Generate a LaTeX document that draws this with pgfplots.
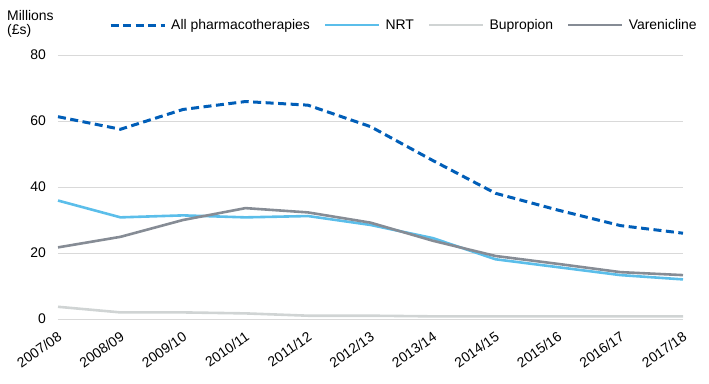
\documentclass[border=0pt]{standalone}
\usepackage{fontspec}
\setmainfont{Liberation Sans}
\usepackage{pgfplots}
\pgfplotsset{compat=1.18}
\definecolor{allc}{RGB}{0,94,184}
\definecolor{nrtc}{RGB}{91,190,234}
\definecolor{bupc}{RGB}{208,212,212}
\definecolor{varc}{RGB}{134,140,149}
\definecolor{gridc}{RGB}{217,217,217}
\begin{document}
\begin{tikzpicture}
\begin{axis}[
  name=ax,
  scale only axis,
  width=625bp, height=264bp,
  xmin=0, xmax=10, ymin=0, ymax=80,
  clip=false,
  xtick={0,...,10},
  xticklabels={2007/08,2008/09,2009/10,2010/11,2011/12,2012/13,2013/14,2014/15,2015/16,2016/17,2017/18},
  ytick={0,20,40,60,80},
  ymajorgrids,
  major grid style={color=gridc, line width=0.9bp},
  axis line style={draw=none},
  major tick length=0pt,
  /pgf/number format/assume math mode=true,
  tick label style={font=\fontsize{14}{16}\selectfont, inner sep=0pt},
  yticklabel style={anchor=east, xshift=-12bp},
  xticklabel style={yshift=-16bp, xshift=2bp, rotate=35, anchor=east},
  legend columns=4,
  legend style={draw=none, fill=none, inner sep=0pt, at={(rel axis cs:0.0816,1.1136)}, anchor=west,
    font=\fontsize{14}{16}\selectfont,
    nodes={inner sep=0pt, anchor=west},
    /tikz/every odd column/.append style={column sep=5bp},
    /tikz/every even column/.append style={column sep=14bp}},
  legend image code/.code={\draw[#1] (0bp,0bp) -- (54bp,0bp);},
]
\addplot[allc, line width=3bp, dash pattern=on 8bp off 4.5bp] coordinates {
(0,61.3) (1,57.5) (2,63.5) (3,65.9) (4,64.8) (5,58.3) (6,48.0) (7,38.1) (8,33.0) (9,28.3) (10,26.0)};
\addlegendentry{All pharmacotherapies}
\addplot[nrtc, line width=2.6bp] coordinates {
(0,35.9) (1,30.8) (2,31.4) (3,30.8) (4,31.2) (5,28.5) (6,24.5) (7,18.1) (8,15.7) (9,13.3) (10,12.0)};
\addlegendentry{NRT}
\addplot[bupc, line width=2.6bp] coordinates {
(0,3.7) (1,2.0) (2,2.0) (3,1.7) (4,1.0) (5,1.0) (6,0.8) (7,0.8) (8,0.8) (9,0.8) (10,0.8)};
\addlegendentry{Bupropion}
\addplot[varc, line width=2.6bp] coordinates {
(0,21.7) (1,24.9) (2,30.0) (3,33.6) (4,32.3) (5,29.2) (6,23.7) (7,19.1) (8,16.7) (9,14.2) (10,13.3)};
\addlegendentry{Varenicline}
\end{axis}
\node[anchor=north west, align=left, inner sep=0pt, font=\fontsize{14}{14.5}\selectfont]
  at ([xshift=-51bp,yshift=45bp]ax.north west) {Millions\\(£s)};
\path[use as bounding box] ([xshift=-58bp,yshift=-65bp]ax.south west) rectangle ++(709bp,384bp);
\end{tikzpicture}
\end{document}
